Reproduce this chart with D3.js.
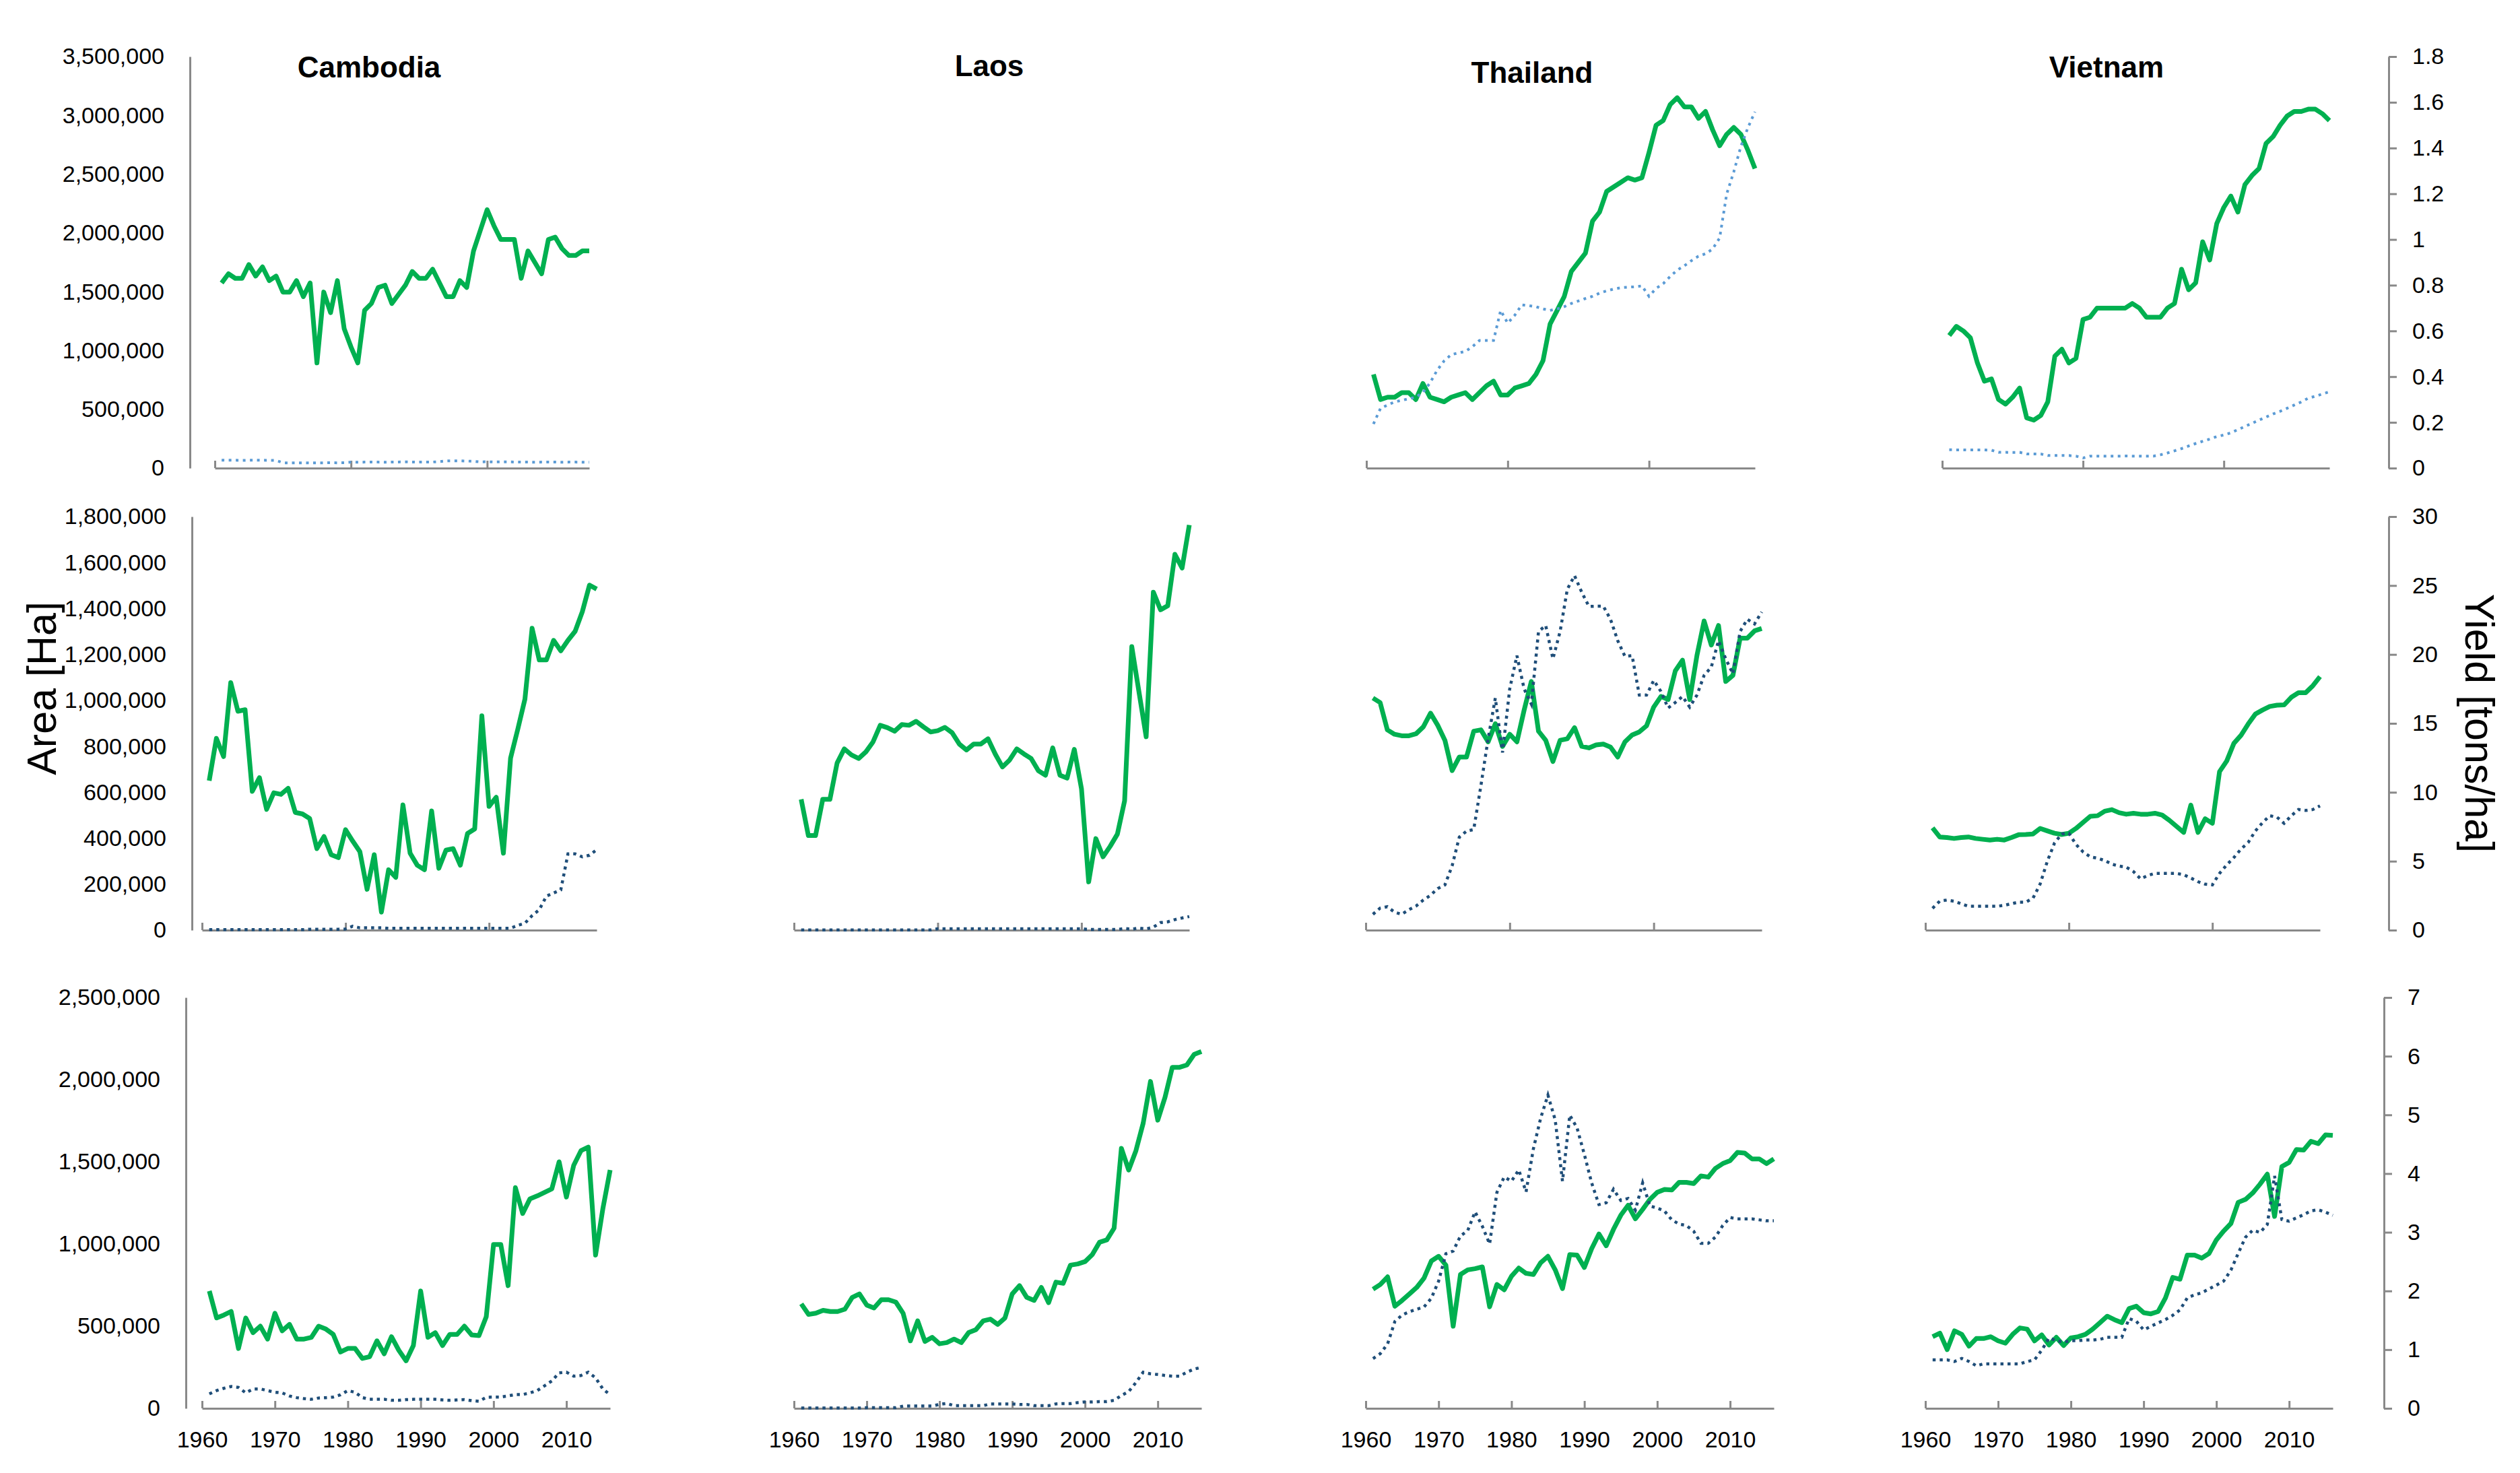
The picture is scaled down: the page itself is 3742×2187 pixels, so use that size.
<!DOCTYPE html>
<html>
<head>
<meta charset="utf-8">
<script src="https://cdn.jsdelivr.net/npm/d3@7"></script>
<style>
  html, body { margin: 0; padding: 0; background: #fff; }
  svg { display: block; }
  text { font-family: "Liberation Sans", Arial, sans-serif; }
</style>
</head>
<body>
<script>
// ---- categories and tick labels ----
var countries = ["Cambodia", "Laos", "Thailand", "Vietnam"];
var yearsRubber = d3.range(1961, 2016);
var yearsCassava = d3.range(1961, 2016);
var yearsMaize = d3.range(1961, 2017);

var areaTicksRubber = [0, 500000, 1000000, 1500000, 2000000, 2500000, 3000000, 3500000];
var yieldTicksRubber = [0, 0.2, 0.4, 0.6, 0.8, 1, 1.2, 1.4, 1.6, 1.8];
var areaTicksCassava = [0, 200000, 400000, 600000, 800000, 1000000, 1200000, 1400000, 1600000, 1800000];
var yieldTicksCassava = [0, 5, 10, 15, 20, 25, 30];
var areaTicksMaize = [0, 500000, 1000000, 1500000, 2000000, 2500000];
var yieldTicksMaize = [0, 1, 2, 3, 4, 5, 6, 7];
var sparseYearTicks = [1960, 1980, 2000];
var decadeYearTicks = [1960, 1970, 1980, 1990, 2000, 2010];

// ---- row 1 (yield 0-1.8 t/ha), 1961-2015 ----
var cambodiaRubberYield = [0.81,0.85,0.83,0.83,0.89,0.84,0.88,0.82,0.84,0.77,
  0.77,0.82,0.75,0.81,0.46,0.77,0.68,0.82,0.61,0.53,
  0.46,0.69,0.72,0.79,0.80,0.72,0.76,0.80,0.86,0.83,
  0.83,0.87,0.81,0.75,0.75,0.82,0.79,0.95,1.04,1.13,
  1.06,1.00,1.00,1.00,0.83,0.95,0.90,0.85,1.00,1.01,
  0.96,0.93,0.93,0.95,0.95];
var cambodiaRubberArea = [68000,67000,67000,66000,67000,68000,67000,66000,65000,
  45000,44000,45000,45000,44000,45000,45000,46000,45000,46000,
  51000,50000,51000,52000,51000,50000,51000,52000,53000,52000,51000,52000,52000,55000,
  61000,62000,62000,60000,58000,
  53000,54000,52000,53000,53000,52000,
  51000,51000,50000,51000,52000,51000,50000,51000,51000,50000,50000];
var thailandRubberYield = [0.41,0.30,0.31,0.31,0.33,0.33,0.30,0.37,0.31,0.30,
  0.29,0.31,0.32,0.33,0.30,0.33,0.36,0.38,0.32,0.32,
  0.35,0.36,0.37,0.41,0.47,0.63,0.69,0.75,0.86,0.90,
  0.94,1.08,1.12,1.21,1.23,1.25,1.27,1.26,1.27,1.38,
  1.50,1.52,1.59,1.62,1.58,1.58,1.53,1.56,1.48,1.41,
  1.46,1.49,1.46,1.39,1.31];
var thailandRubberArea = [375000,509000,536000,563000,576000,590000,603000,643000,724000,831000,
  912000,965000,979000,992000,1032000,1086000,1086000,1086000,1341000,1233000,
  1300000,1389000,1381000,1373000,1354000,1341000,1354000,1373000,1400000,1421000,
  1442000,1461000,1488000,1507000,1523000,1534000,1539000,1542000,1550000,1461000,
  1528000,1568000,1630000,1684000,1721000,1764000,1802000,1823000,1863000,1957000,
  2332000,2520000,2735000,2895000,3030000];
var vietnamRubberYield = [0.58,0.62,0.60,0.57,0.46,0.38,0.39,0.30,0.28,0.31,
  0.35,0.22,0.21,0.23,0.29,0.49,0.52,0.46,0.48,0.65,
  0.66,0.70,0.70,0.70,0.70,0.70,0.72,0.70,0.66,0.66,
  0.66,0.70,0.72,0.87,0.78,0.81,0.99,0.91,1.07,1.14,
  1.19,1.12,1.24,1.28,1.31,1.42,1.45,1.50,1.54,1.56,
  1.56,1.57,1.57,1.55,1.52];
var vietnamRubberArea = [156000,155000,155000,154000,155000,155000,152000,
  134000,134000,133000,134000,121000,121000,120000,
  107000,107000,108000,107000,102000,86000,
  102000,102000,101000,102000,102000,103000,102000,102000,101000,102000,
  113000,129000,147000,166000,188000,209000,228000,247000,268000,282000,
  300000,327000,354000,381000,408000,434000,461000,483000,509000,536000,
  563000,595000,611000,630000,649000];

// ---- row 2 (yield 0-30 t/ha), 1961-2015 ----
var cambodiaCassavaYield = [10.84,13.91,12.59,17.96,15.88,15.99,10.07,11.06,8.76,9.96,
  9.85,10.29,8.54,8.43,8.10,5.91,6.79,5.47,5.26,7.29,
  6.46,5.69,2.96,5.47,1.31,4.38,3.83,9.09,5.58,4.71,
  4.38,8.65,4.49,5.80,5.91,4.71,7.01,7.34,15.55,8.98,
  9.64,5.58,12.48,14.56,16.75,21.90,19.60,19.60,21.02,20.26,
  21.02,21.68,23.10,25.03,24.74];
var cambodiaCassavaArea = [2000,2000,2000,2000,2000,2000,2000,2000,2000,2000,2000,2000,2000,2000,
  4000,4000,4000,4000,4000,5000,17000,10000,10000,10000,10000,
  8000,8000,8000,8000,8000,8000,8000,8000,8000,8000,8000,8000,8000,8000,8000,8000,8000,8000,
  21000,30000,63000,89000,148000,162000,175000,332000,332000,319000,326000,350000];
var laosCassavaYield = [9.49,6.86,6.86,9.49,9.49,12.12,13.15,12.71,12.45,12.93,
  13.66,14.86,14.69,14.43,14.91,14.86,15.15,14.75,14.38,14.47,
  14.71,14.32,13.50,13.07,13.50,13.50,13.88,12.78,11.84,12.34,
  13.15,12.78,12.45,11.57,11.24,13.22,11.24,11.03,13.11,10.26,
  3.50,6.64,5.32,6.09,6.97,9.38,20.57,17.28,14.03,24.52,
  23.24,23.53,27.26,26.27,29.39];
var laosCassavaArea = [1000,1000,1000,1000,1000,1000,1000,1000,1000,1000,1000,1000,1000,1000,1000,1000,1000,1000,1000,
  6000,6000,6000,6000,6000,6000,6000,6000,6000,6000,6000,6000,6000,6000,6000,6000,6000,6000,6000,6000,6000,
  3000,3000,3000,3000,3000,7000,4000,9000,5000,13000,33000,36000,46000,53000,59000];
var thailandCassavaYield = [16.84,16.51,14.53,14.21,14.10,14.10,14.25,14.75,15.74,14.86,
  13.77,11.57,12.56,12.56,14.43,14.53,13.66,14.97,13.33,14.21,
  13.66,15.96,18.04,14.43,13.77,12.23,13.77,13.88,14.69,13.33,
  13.22,13.44,13.50,13.28,12.56,13.66,14.16,14.38,14.82,16.18,
  16.95,16.73,18.81,19.58,16.73,19.91,22.43,20.68,22.10,18.04,
  18.48,21.18,21.18,21.71,21.88];
var thailandCassavaArea = [69000,96000,102000,78000,69000,89000,105000,131000,152000,181000,
  197000,280000,405000,431000,438000,629000,833000,1010000,773000,1050000,
  1195000,1050000,984000,1300000,1326000,1181000,1300000,1484000,1543000,1471000,
  1409000,1410000,1410000,1353000,1260000,1192000,1195000,1023000,1023000,1087000,
  1039000,967000,991000,1017000,971000,1023000,1109000,1145000,1260000,1181000,
  1116000,1300000,1353000,1333000,1385000];
var vietnamCassavaYield = [7.42,6.76,6.72,6.65,6.72,6.76,6.65,6.59,6.54,6.59,
  6.54,6.72,6.92,6.94,6.98,7.38,7.20,7.03,6.94,7.03,
  7.38,7.82,8.26,8.30,8.63,8.74,8.52,8.41,8.48,8.41,
  8.41,8.48,8.35,7.97,7.53,7.09,9.07,7.09,8.08,7.75,
  11.50,12.27,13.55,14.14,14.96,15.68,15.97,16.23,16.32,16.34,
  16.89,17.22,17.22,17.73,18.39];
var vietnamCassavaArea = [95000,126000,131000,126000,115000,104000,104000,104000,104000,104000,
  108000,115000,122000,122000,139000,201000,300000,379000,419000,422000,
  373000,340000,319000,313000,303000,287000,279000,274000,255000,223000,
  238000,247000,247000,247000,247000,241000,227000,211000,200000,197000,
  247000,284000,316000,353000,382000,432000,468000,498000,492000,465000,
  498000,525000,521000,525000,541000];

// ---- row 3 (yield 0-7 t/ha), 1961-2016 ----
var cambodiaMaizeYield = [2.00,1.54,1.59,1.65,1.02,1.54,1.29,1.40,1.18,1.62,
  1.32,1.43,1.18,1.18,1.21,1.40,1.35,1.26,0.96,1.02,
  1.02,0.85,0.88,1.15,0.93,1.22,0.99,0.81,1.07,2.00,
  1.21,1.29,1.07,1.26,1.26,1.40,1.25,1.24,1.56,2.79,
  2.79,2.09,3.76,3.32,3.57,3.62,3.68,3.74,4.20,3.60,
  4.14,4.39,4.45,2.61,3.40,4.06];
var cambodiaMaizeArea = [88000,108000,122000,133000,127000,94000,118000,118000,108000,98000,
  94000,75000,65000,59000,55000,63000,65000,69000,82000,108000,
  98000,65000,55000,55000,55000,49000,49000,53000,55000,55000,
  55000,55000,51000,49000,51000,53000,47000,43000,67000,69000,
  69000,76000,84000,84000,94000,108000,137000,167000,216000,220000,
  196000,200000,220000,186000,118000,82000];
var laosMaizeYield = [1.78,1.60,1.62,1.67,1.65,1.65,1.69,1.89,1.95,1.76,
  1.71,1.85,1.85,1.81,1.62,1.15,1.49,1.14,1.21,1.10,
  1.12,1.18,1.12,1.29,1.34,1.49,1.52,1.43,1.54,1.95,
  2.09,1.89,1.84,2.06,1.80,2.15,2.13,2.44,2.46,2.50,
  2.62,2.83,2.87,3.07,4.43,4.06,4.39,4.86,5.57,4.91,
  5.30,5.81,5.81,5.85,6.03,6.08];
var laosMaizeArea = [2000,2000,2000,2000,2000,2000,2000,2000,2000,
  4000,4000,4000,4000,4000,14000,14000,14000,14000,14000,
  24000,30000,16000,16000,16000,16000,16000,27000,27000,27000,27000,
  24000,24000,16000,16000,16000,27000,29000,29000,35000,39000,39000,41000,41000,49000,
  78000,102000,157000,220000,210000,206000,200000,196000,196000,220000,239000,249000];
var thailandMaizeYield = [2.03,2.11,2.24,1.74,1.84,1.95,2.06,2.22,2.51,2.59,
  2.44,1.40,2.28,2.36,2.38,2.41,1.73,2.11,2.02,2.25,
  2.39,2.30,2.28,2.48,2.59,2.36,2.04,2.62,2.61,2.40,
  2.72,2.97,2.77,3.05,3.29,3.46,3.23,3.39,3.56,3.68,
  3.73,3.72,3.85,3.85,3.83,3.96,3.94,4.09,4.17,4.22,
  4.36,4.35,4.25,4.25,4.17,4.25];
var thailandMaizeArea = [303000,333000,392000,529000,568000,588000,603000,617000,670000,774000,
  941000,957000,1049000,1082000,1196000,1108000,1000000,1314000,1408000,1382000,
  1451000,1317000,1578000,1765000,1906000,1755000,1382000,1784000,1706000,1545000,
  1372000,1240000,1251000,1333000,1265000,1277000,1206000,1372000,1231000,1219000,
  1200000,1147000,1121000,1113000,1078000,1004000,1004000,1043000,1113000,1161000,
  1153000,1153000,1153000,1147000,1141000,1141000];
var vietnamMaizeYield = [1.22,1.28,1.00,1.32,1.26,1.06,1.19,1.19,1.22,1.15,
  1.11,1.26,1.37,1.35,1.15,1.25,1.08,1.21,1.07,1.20,
  1.22,1.26,1.35,1.46,1.57,1.51,1.46,1.70,1.74,1.63,
  1.61,1.65,1.88,2.23,2.20,2.61,2.61,2.56,2.64,2.87,
  3.02,3.15,3.51,3.56,3.67,3.82,3.99,3.27,4.12,4.19,
  4.41,4.40,4.55,4.51,4.66,4.65];
var vietnamMaizeArea = [295000,295000,295000,285000,304000,285000,259000,271000,271000,271000,
  271000,271000,271000,285000,295000,354000,428000,412000,403000,412000,
  412000,416000,416000,420000,432000,432000,432000,546000,530000,477000,
  499000,520000,540000,566000,599000,672000,691000,703000,727000,750000,
  774000,841000,943000,1041000,1084000,1070000,1119000,1414000,1149000,1139000,
  1159000,1178000,1202000,1208000,1194000,1174000];

// ---- table built from the arrays above ----
var rows = [
  { years: yearsRubber, areaTicks: areaTicksRubber, yieldTicks: yieldTicksRubber, xTicks: sparseYearTicks, xLabels: false,
    panels: [[cambodiaRubberArea, cambodiaRubberYield], null, [thailandRubberArea, thailandRubberYield], [vietnamRubberArea, vietnamRubberYield]] },
  { years: yearsCassava, areaTicks: areaTicksCassava, yieldTicks: yieldTicksCassava, xTicks: sparseYearTicks, xLabels: false,
    panels: [[cambodiaCassavaArea, cambodiaCassavaYield], [laosCassavaArea, laosCassavaYield], [thailandCassavaArea, thailandCassavaYield], [vietnamCassavaArea, vietnamCassavaYield]] },
  { years: yearsMaize, areaTicks: areaTicksMaize, yieldTicks: yieldTicksMaize, xTicks: decadeYearTicks, xLabels: true,
    panels: [[cambodiaMaizeArea, cambodiaMaizeYield], [laosMaizeArea, laosMaizeYield], [thailandMaizeArea, thailandMaizeYield], [vietnamMaizeArea, vietnamMaizeYield]] }
];

// ---- layout (pixels) ----
var width = 3742, height = 2187;
var rowBox = [
  { zero: 695, top: 84, leftX: 282, rightX: 3547, dotColor: "#5B9BD5", dotWidth: 4 },
  { zero: 1381, top: 767, leftX: 285, rightX: 3547, dotColor: "#1F4E79", dotWidth: 4.5 },
  { zero: 2091, top: 1481, leftX: 276, rightX: 3540, dotColor: "#1F4E79", dotWidth: 4.5 }
];
var panelSpan = [
  [[319, 875], null, [2029, 2606], [2884, 3459]],
  [[300, 886], [1179, 1766], [2028, 2616], [2859, 3445]],
  [[300, 906], [1179, 1784], [2028, 2634], [2859, 3464]]
];
var titlePos = [[548, 115], [1469, 113], [2275, 123], [3128, 115]];
var axisGrey = "#898989";
var green = "#00B050";

var svg = d3.select("body").append("svg")
    .attr("width", width)
    .attr("height", height);

function styleAxis(g) {
  g.attr("font-size", 34)
   .attr("font-family", "'Liberation Sans', Arial, sans-serif")
   .style("color", "#000");
  g.selectAll("path, line").style("stroke", axisGrey).style("stroke-width", 3);
}

rows.forEach(function(row, r) {
  var box = rowBox[r];
  var lastYear = row.years[row.years.length - 1];
  var yArea = d3.scaleLinear()
      .domain([0, row.areaTicks[row.areaTicks.length - 1]])
      .range([box.zero, box.top]);
  var yYield = d3.scaleLinear()
      .domain([0, row.yieldTicks[row.yieldTicks.length - 1]])
      .range([box.zero, box.top]);

  // left axis (area)
  svg.append("g")
      .attr("transform", "translate(" + box.leftX + ",0)")
      .call(d3.axisLeft(yArea).tickValues(row.areaTicks).tickSize(0).tickSizeOuter(0)
            .tickPadding(38).tickFormat(d3.format(",")))
      .call(styleAxis);

  // right axis (yield)
  svg.append("g")
      .attr("transform", "translate(" + box.rightX + ",0)")
      .call(d3.axisRight(yYield).tickValues(row.yieldTicks).tickSize(12).tickSizeOuter(0)
            .tickPadding(23).tickFormat(function(d) { return String(d); }))
      .call(styleAxis);

  row.panels.forEach(function(series, c) {
    if (!series) return;
    var x = d3.scaleLinear().domain([1960, lastYear]).range(panelSpan[r][c]);

    svg.append("g")
        .attr("transform", "translate(0," + box.zero + ")")
        .call(d3.axisBottom(x).tickValues(row.xTicks).tickSize(-11).tickSizeOuter(0)
              .tickPadding(34).tickFormat(row.xLabels ? d3.format("d") : ""))
        .call(styleAxis);

    var yieldPts = row.years.map(function(yr, i) { return { year: yr, value: series[1][i] }; });
    var areaPts = row.years.map(function(yr, i) { return { year: yr, value: series[0][i] }; });

    var yieldLine = d3.line()
        .x(function(d) { return x(d.year); })
        .y(function(d) { return yYield(d.value); });
    var areaLine = d3.line()
        .x(function(d) { return x(d.year); })
        .y(function(d) { return yArea(d.value); });

    svg.append("path")
        .datum(yieldPts)
        .attr("fill", "none")
        .attr("stroke", green)
        .attr("stroke-width", 7)
        .attr("stroke-linejoin", "round")
        .attr("d", yieldLine);

    svg.append("path")
        .datum(areaPts)
        .attr("fill", "none")
        .attr("stroke", box.dotColor)
        .attr("stroke-width", box.dotWidth)
        .attr("stroke-dasharray", box.dotWidth + " " + (10.5 - box.dotWidth))
        .attr("d", areaLine);
  });
});

// column titles
countries.forEach(function(name, c) {
  svg.append("text")
      .attr("x", titlePos[c][0])
      .attr("y", titlePos[c][1])
      .attr("text-anchor", "middle")
      .attr("font-size", 44)
      .attr("font-weight", "bold")
      .text(name);
});

// axis titles
svg.append("text")
    .attr("transform", "translate(62,1022) rotate(-90)")
    .attr("text-anchor", "middle")
    .attr("dominant-baseline", "central")
    .attr("font-size", 61)
    .text("Area [Ha]");

svg.append("text")
    .attr("transform", "translate(3682,1074) rotate(90)")
    .attr("text-anchor", "middle")
    .attr("dominant-baseline", "central")
    .attr("font-size", 61)
    .text("Yield [tons/ha]");
</script>
</body>
</html>
